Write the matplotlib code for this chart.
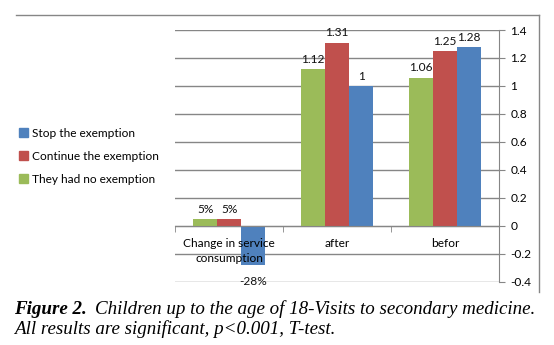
import matplotlib
matplotlib.use('Agg')
import matplotlib.pyplot as plt
from matplotlib.lines import Line2D
from matplotlib.patches import Patch
from matplotlib.ticker import FuncFormatter
import numpy as np

categories = ['Change in service\nconsumption', 'after', 'befor']
no_exemption = [0.05, 1.12, 1.06]
continue_exemption = [0.05, 1.31, 1.25]
stop_exemption = [-0.28, 1.0, 1.28]
labels_no = ['5%', '1.12', '1.06']
labels_cont = ['5%', '1.31', '1.25']
labels_stop = ['-28%', '1', '1.28']
yticks = [-0.4, -0.2, 0, 0.2, 0.4, 0.6, 0.8, 1.0, 1.2, 1.4]

green = '#9BBB59'
red = '#C0504D'
blue = '#4F81BD'
grid_c = '#868686'

plt.rcParams['font.family'] = ['Lato', 'DejaVu Sans']
fs = 8.6

fig = plt.figure(figsize=(5.54, 3.45), dpi=100)
ax = fig.add_axes([0.316, 0.183, 0.585, 0.730])

x = np.arange(len(categories))
w = 0.222
series = [(no_exemption, green, labels_no), (continue_exemption, red, labels_cont),
          (stop_exemption, blue, labels_stop)]
for i, (vals, col, labs) in enumerate(series):
    pos = x + (i - 1) * w
    ax.bar(pos, vals, w, color=col, zorder=3)
    for p, v, l in zip(pos, vals, labs):
        if v >= 0:
            ax.text(p, v + 0.03, l, ha='center', va='bottom', fontsize=fs, color='#111111', zorder=6)
        else:
            ax.text(p, v - 0.075, l, ha='center', va='top', fontsize=fs, color='#111111', zorder=6)

ax.set_xlim(-0.5, 2.5)
ax.set_ylim(-0.4, 1.4)
ax.set_yticks(yticks)
ax.yaxis.set_major_formatter(FuncFormatter(lambda v, p: '%g' % round(v, 1)))
ax.yaxis.tick_right()
ax.yaxis.grid(True, color=grid_c, linewidth=1, zorder=0)
ax.tick_params(axis='y', direction='out', length=4, color=grid_c, labelsize=fs, pad=4)

for s in ['left', 'top']:
    ax.spines[s].set_visible(False)
ax.spines['right'].set_color(grid_c)
ax.spines['bottom'].set_position(('data', 0))
ax.spines['bottom'].set_color(grid_c)
ax.spines['bottom'].set_zorder(4)

ax.set_xticks(x)
ax.set_xticklabels(categories, fontsize=fs, linespacing=1.35)
ax.set_xticks([-0.5, 0.5, 1.5, 2.5], minor=True)
ax.tick_params(axis='x', which='major', length=0, pad=9)
ax.tick_params(axis='x', which='minor', length=4, direction='out', color=grid_c)
ax.xaxis.set_zorder(5)

handles = [Patch(color=blue, label='Stop the exemption'),
           Patch(color=red, label='Continue the exemption'),
           Patch(color=green, label='They had no exemption')]
fig.legend(handles=handles, loc='center left', bbox_to_anchor=(0.026, 0.547),
           frameon=False, fontsize=fs, handlelength=0.75, handleheight=0.75,
           handletextpad=0.3, labelspacing=1.0, borderaxespad=0)

# chart border (top and right)
fig.add_artist(Line2D([16 / 554, 539 / 554], [1 - 15 / 345, 1 - 15 / 345],
                      color=grid_c, linewidth=1, transform=fig.transFigure))
fig.add_artist(Line2D([539 / 554, 539 / 554], [1 - 15 / 345, 1 - 292 / 345],
                      color=grid_c, linewidth=1, transform=fig.transFigure))

cap_font = 'Liberation Serif'
cap_fs = 13.7
t1 = fig.text(14 / 554, 1 - 309 / 345, 'Figure 2.', fontsize=cap_fs, family=cap_font,
              style='italic', weight='bold', va='center')
fig.canvas.draw()
bb = t1.get_window_extent(fig.canvas.get_renderer())
x2 = (bb.x1 + 8) / fig.bbox.width
fig.text(x2, 1 - 309 / 345, 'Children up to the age of 18-Visits to secondary medicine.',
         fontsize=cap_fs, family=cap_font, style='italic', va='center')
fig.text(14 / 554, 1 - 329 / 345, 'All results are significant, p<0.001, T-test.',
         fontsize=cap_fs, family=cap_font, style='italic', va='center')

fig.savefig('out.png', dpi=100)
